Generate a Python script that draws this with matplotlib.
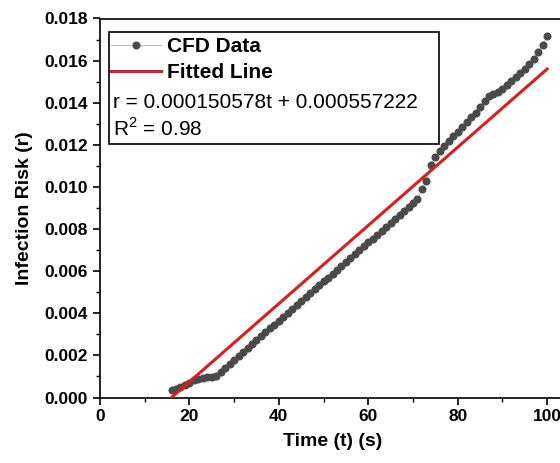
import numpy as np
import matplotlib
matplotlib.use("Agg")
import matplotlib.pyplot as plt
from matplotlib.patches import Rectangle
from matplotlib.ticker import MultipleLocator

plt.rcParams['font.family'] = ['Liberation Sans', 'DejaVu Sans']
plt.rcParams['mathtext.fontset'] = 'custom'
plt.rcParams['mathtext.rm'] = 'Liberation Sans'

# CFD data (t in s, r = infection risk)
t_cfd = list(range(16, 101))
r_cfd = [
    0.00035, 0.00040, 0.00048, 0.00058, 0.00070, 0.00082, 0.00090, 0.00094,
    0.00096, 0.00098, 0.00103, 0.00123, 0.00142, 0.00160, 0.00179, 0.00197,
    0.00216, 0.00235, 0.00253, 0.00272, 0.00290, 0.00309, 0.00328, 0.00346,
    0.00365, 0.00383, 0.00402, 0.00421, 0.00439, 0.00458, 0.00476, 0.00495,
    0.00514, 0.00532, 0.00551, 0.00569, 0.00588, 0.00607, 0.00625, 0.00644,
    0.00662, 0.00681, 0.00700, 0.00718, 0.00737, 0.00755, 0.00774, 0.00793,
    0.00811, 0.00830, 0.00848, 0.00867, 0.00886, 0.00904, 0.00923, 0.00942,
    0.00990, 0.01030, 0.01105, 0.01140, 0.01170, 0.01195, 0.01217, 0.01240,
    0.01262, 0.01285, 0.01307, 0.01330, 0.01352, 0.01380, 0.01410, 0.01432,
    0.01440, 0.01452, 0.01464, 0.01485, 0.01503, 0.01521, 0.01540, 0.01559,
    0.01585, 0.01610, 0.01640, 0.01672, 0.01715,
]

# fitted line as drawn
t_fit = [16, 100]
r_fit = [0.0, 0.0156]

eq_text = "r = 0.000150578t + 0.000557222"
r2_text = "R$^2$ = 0.98"

W, H = 560, 463
fig = plt.figure(figsize=(W / 100, H / 100), dpi=100)
ax = fig.add_axes([100 / W, 65.5 / H, 465 / W, 379 / H])

ax.plot(t_cfd, r_cfd, color='#aaaaaa', lw=0.6, marker='o', ms=4.8,
        mfc='#4a4a4a', mec='#4a4a4a', label='CFD Data', zorder=3)
ax.plot(t_fit, r_fit, color='#dd1c1c', lw=2.2, label='Fitted Line', zorder=4)

ax.set_xlim(0, 104)
ax.set_ylim(0, 0.018)
ax.xaxis.set_major_locator(MultipleLocator(20))
ax.xaxis.set_minor_locator(MultipleLocator(10))
ax.yaxis.set_major_locator(MultipleLocator(0.002))
ax.yaxis.set_minor_locator(MultipleLocator(0.001))
ax.yaxis.set_major_formatter(plt.FuncFormatter(lambda v, p: f"{v:.3f}"))
ax.tick_params(which='major', direction='out', length=5, width=1.2,
               labelsize=12.5, top=False, right=False)
ax.tick_params(which='minor', direction='out', length=3, width=1.0,
               top=False, right=False)
for lab in ax.get_xticklabels() + ax.get_yticklabels():
    lab.set_fontweight('bold')
for s in ax.spines.values():
    s.set_linewidth(1.2)
ax.spines['right'].set_visible(False)

ax.set_xlabel("Time (t) (s)", fontsize=14, fontweight='bold', labelpad=6)
ax.set_ylabel("Infection Risk (r)", fontsize=14, fontweight='bold', labelpad=8)

# legend box
fig.patches.append(Rectangle((109 / W, 1 - 144 / H), 330 / W, 112.5 / H,
                             transform=fig.transFigure, fill=False,
                             ec='black', lw=1.2))
leg = ax.legend(loc='upper left', bbox_to_anchor=(109 / W, 1 - 35 / H),
                bbox_transform=fig.transFigure, frameon=False,
                prop={'size': 15, 'weight': 'bold'}, handlelength=2.4,
                handletextpad=0.3, labelspacing=0.35, borderaxespad=0,
                borderpad=0.1)
fig.text(113 / W, 1 - 102 / H, eq_text, fontsize=15, va='center', ha='left')
fig.text(113 / W, 1 - 128 / H, r2_text, fontsize=15, va='center', ha='left')

fig.savefig("out.png", dpi=100)
